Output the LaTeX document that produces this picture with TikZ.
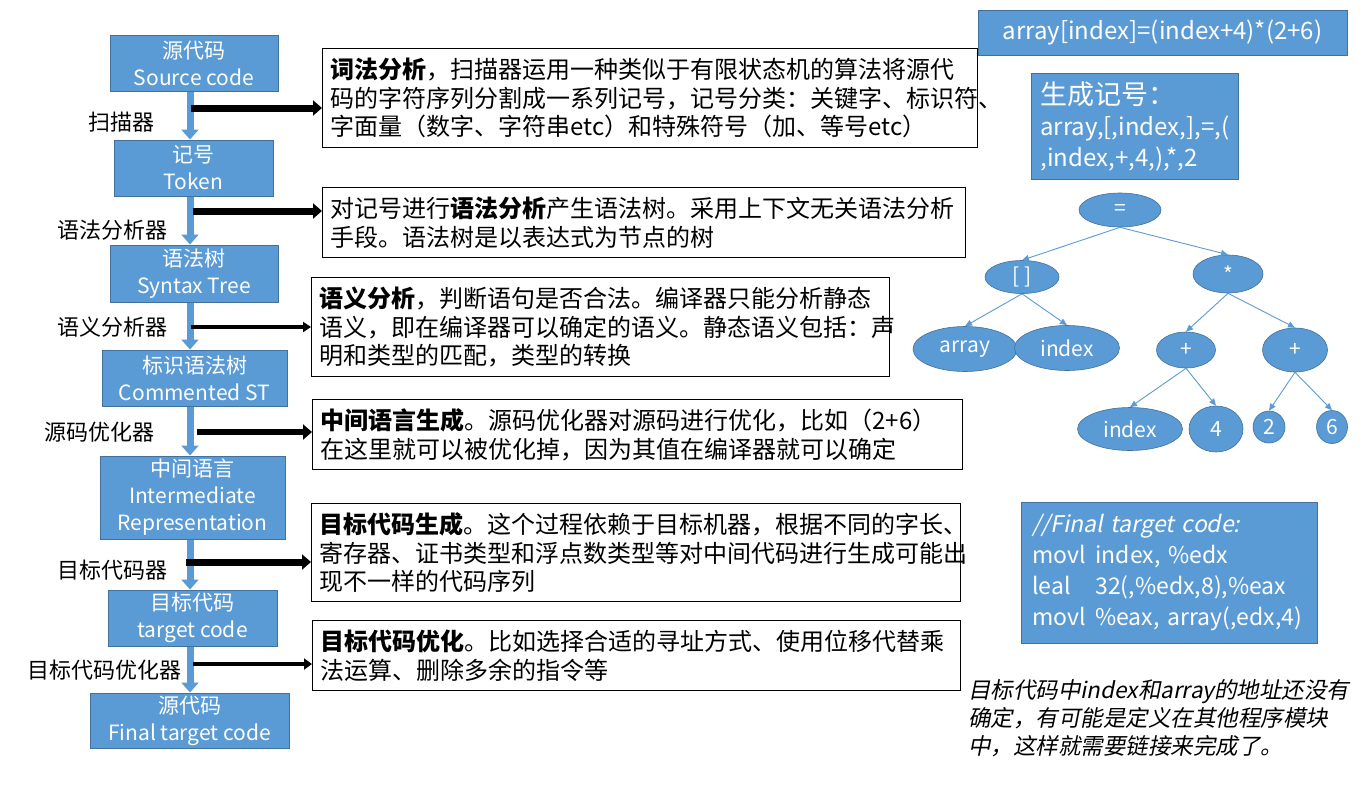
\documentclass[tikz,border=0pt]{standalone}
\usepackage{fontspec}
\setmainfont{Noto Sans CJK SC}
\newfontfamily\slantfont{Noto Sans CJK SC}[FakeSlant=0.2]
\usetikzlibrary{arrows.meta,shapes.geometric,calc}
\definecolor{boxblue}{HTML}{5B9BD5}
\definecolor{boxedge}{HTML}{41719C}
\begin{document}
\begin{tikzpicture}[x=1pt,y=-1pt,
  stage/.style={draw=boxedge, line width=1pt, fill=boxblue, text=white,
    font=\fontsize{21}{27}\selectfont, align=center, inner sep=0pt},
  desc/.style={draw=black, line width=1.2pt, fill=white,
    font=\fontsize{24}{28.5}\selectfont, align=left, anchor=north west,
    inner xsep=8pt, inner ysep=0pt},
  lbl/.style={font=\fontsize{22}{26}\selectfont, anchor=east, inner sep=0pt},
  flow/.style={draw=boxblue, line width=7pt, -{Triangle[length=10pt,width=17pt]}},
  link/.style={draw=black, -{Triangle[length=9pt,width=15pt]}},
  tnode/.style={ellipse, fill=boxblue, draw=boxedge, line width=0.6pt, text=white,
    font=\fontsize{21}{25}\selectfont, inner sep=0pt},
  tedge/.style={draw=boxblue, line width=0.9pt, -{Triangle[length=7pt,width=6pt]}},
  bluebox/.style={draw=boxedge, line width=0.8pt, fill=boxblue, text=white, inner sep=0pt}
]
\useasboundingbox[fill=white] (0,0) rectangle (1367,788);

% ---------------- left column stages ----------------
\node[stage, minimum width=168pt, minimum height=56pt] (s1) at (194,63) {源代码\\Source code};
\node[stage, minimum width=159pt, minimum height=56pt] (s2) at (193.5,168) {记号\\Token};
\node[stage, minimum width=168pt, minimum height=57pt] (s3) at (194,273.5) {语法树\\Syntax Tree};
\node[stage, minimum width=185pt, minimum height=56pt] (s4) at (194.5,378) {标识语法树\\Commented ST};
\node[stage, minimum width=185pt, minimum height=83pt] (s5) at (192.5,497.5) {中间语言\\Intermediate\\Representation};
\node[stage, minimum width=169pt, minimum height=56pt] (s6) at (192.5,618) {目标代码\\target code};
\node[stage, minimum width=199pt, minimum height=55pt] (s7) at (189.5,720.5) {源代码\\Final target code};

\coordinate (ax) at (190,0);
\draw[flow] (s1.south -| ax) -- (s2.north -| ax);
\draw[flow] (s2.south -| ax) -- (s3.north -| ax);
\draw[flow] (s3.south -| ax) -- (s4.north -| ax);
\draw[flow] (s4.south -| ax) -- (s5.north -| ax);
\draw[flow] (s5.south -| ax) -- (s6.north -| ax);
\draw[flow] (s6.south -| ax) -- (s7.north -| ax);

% labels
\node[lbl] (l1) at (155,122) {扫描器};
\node[lbl] (l2) at (168,230) {语法分析器};
\node[lbl] (l3) at (168,327) {语义分析器};
\node[lbl] (l4) at (155,432) {源码优化器};
\node[lbl] (l5) at (168,570) {目标代码器};
\node[lbl] (l6) at (182,670) {目标代码优化器};

% ---------------- description boxes ----------------
\node[desc, minimum width=655pt, minimum height=99pt, text width=639pt] (t1) at (322,48)
 {\textbf{词法分析}，扫描器运用一种类似于有限状态机的算法将源代\\码的字符序列分割成一系列记号，记号分类：关键字、标识符、\\字面量（数字、字符串etc）和特殊符号（加、等号etc）};
\node[desc, minimum width=643pt, minimum height=70pt, text width=627pt] (t2) at (322,187)
 {对记号进行\textbf{语法分析}产生语法树。采用上下文无关语法分析\\手段。语法树是以表达式为节点的树};
\node[desc, minimum width=578pt, minimum height=99pt, text width=562pt] (t3) at (311,277)
 {\textbf{语义分析}，判断语句是否合法。编译器只能分析静态\\语义，即在编译器可以确定的语义。静态语义包括：声\\明和类型的匹配，类型的转换};
\node[desc, minimum width=650pt, minimum height=70pt, text width=634pt] (t4) at (312,399)
 {\textbf{中间语言生成}。源码优化器对源码进行优化，比如（2+6）\\在这里就可以被优化掉，因为其值在编译器就可以确定};
\node[desc, minimum width=649pt, minimum height=98pt, text width=633pt] (t5) at (311,503)
 {\textbf{目标代码生成}。这个过程依赖于目标机器，根据不同的字长、\\寄存器、证书类型和浮点数类型等对中间代码进行生成可能出\\现不一样的代码序列};
\node[desc, minimum width=648pt, minimum height=70pt, text width=632pt] (t6) at (312,620)
 {\textbf{目标代码优化}。比如选择合适的寻址方式、使用位移代替乘\\法运算、删除多余的指令等};

% black arrows
\coordinate (a1) at (191,108);
\coordinate (a2) at (193,211);
\coordinate (a3) at (191,327);
\coordinate (a4) at (197,432);
\coordinate (a5) at (186,562);
\coordinate (a6) at (193,664);
\draw[link, line width=7pt] (a1) -- (a1 -| t1.west);
\draw[link, line width=7pt] (a2) -- (a2 -| t2.west);
\draw[link, line width=3.5pt, -{Triangle[length=8pt,width=10pt]}] (a3) -- (a3 -| t3.west);
\draw[link, line width=6.5pt] (a4) -- (a4 -| t4.west);
\draw[link, line width=7pt] (a5) -- (a5 -| t5.west);
\draw[link, line width=4pt, -{Triangle[length=8pt,width=11pt]}] (a6) -- (a6 -| t6.west);

% ---------------- right side ----------------
\node[bluebox, minimum width=369pt, minimum height=45pt,
  font=\fontsize{24}{28}\selectfont] (expr) at (1162.5,32.5) {array[index]=(index+4)*(2+6)};

\node[bluebox, anchor=north west, minimum width=207pt, minimum height=106pt,
  text width=189pt, inner xsep=9pt, align=left,
  font=\fontsize{24}{31}\selectfont] (tok) at (1031,73)
  {{\fontsize{27}{31}\selectfont 生成记号：}\\array,[,index,],=,(\\,index,+,4,),*,2};

% tree
\node[tnode, minimum width=82pt, minimum height=34pt] (eq) at (1120,210) {=};
\node[tnode, minimum width=74pt, minimum height=33pt] (lb) at (1022,277) {[ ]};
\node[tnode, minimum width=70pt, minimum height=38pt] (st) at (1228,274) {*};
\node[tnode, minimum width=104pt, minimum height=45pt] (arr) at (965,349) {array};
\node[tnode, minimum width=105pt, minimum height=45pt] (idx) at (1067,348) {index};
\node[tnode, minimum width=59pt, minimum height=36pt] (pl1) at (1186,350) {+};
\node[tnode, minimum width=65pt, minimum height=44pt] (pl2) at (1295,350) {+};
\node[tnode, minimum width=105pt, minimum height=43pt] (idx2) at (1130,429) {index};
\node[tnode, minimum width=54pt, minimum height=46pt] (n4) at (1216,429) {4};
\node[tnode, minimum width=32pt, minimum height=32pt] (n2) at (1269,427) {2};
\node[tnode, minimum width=31pt, minimum height=33pt] (n6) at (1332,427) {6};

\draw[tedge] (eq.south) -- (lb.north);
\draw[tedge] (eq.south) -- (st.north);
\draw[tedge] (lb.south) -- (arr.north);
\draw[tedge] (lb.south) -- (idx.north);
\draw[tedge] (st.south) -- (pl1.north);
\draw[tedge] (st.south) -- (pl2.north);
\draw[tedge] (pl1.south) -- (idx2.north);
\draw[tedge] (pl1.south) -- (n4.north);
\draw[tedge] (pl2.south) -- (n2.north);
\draw[tedge] (pl2.south) -- (n6.north);

% final code
\node[bluebox, anchor=north west, minimum width=296pt, minimum height=141pt,
  text width=274pt, inner xsep=11pt, align=left,
  font=\fontsize{23}{31}\selectfont] (code) at (1021,502)
  {{\slantfont //Final target code:}\\
   \makebox[63pt][l]{movl}index, \%edx\\
   \makebox[63pt][l]{leal}32(,\%edx,8),\%eax\\
   \makebox[63pt][l]{movl}\%eax, array(,edx,4)};

\node[anchor=north west, inner sep=0pt, align=left,
  font=\slantfont\fontsize{22.5}{28}\selectfont] (note) at (968,679)
  {目标代码中index和array的地址还没有\\确定，有可能是定义在其他程序模块\\中，这样就需要链接来完成了。};
\end{tikzpicture}
\end{document}
